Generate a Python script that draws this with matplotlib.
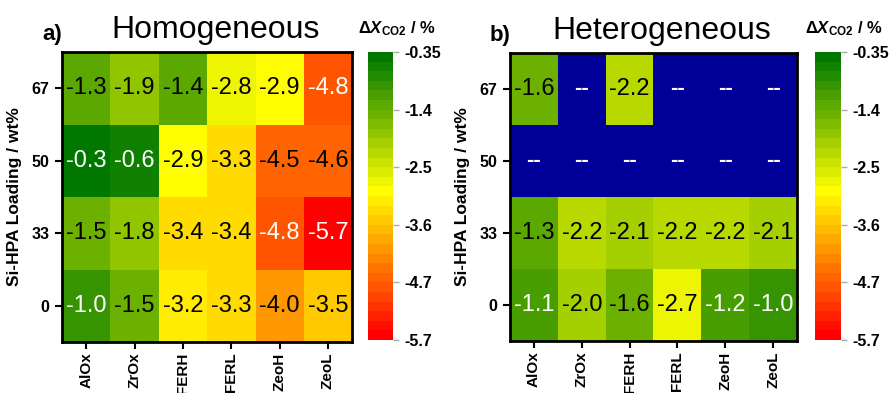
import numpy as np
import matplotlib
matplotlib.use("Agg")
import matplotlib.pyplot as plt
from matplotlib.colors import LinearSegmentedColormap, ListedColormap, Normalize

plt.rcParams['font.family'] = ['Liberation Sans', 'DejaVu Sans']
plt.rcParams['mathtext.fontset'] = 'custom'
plt.rcParams['mathtext.rm'] = 'Liberation Sans:bold'
plt.rcParams['mathtext.it'] = 'Liberation Sans:italic:bold'
plt.rcParams['mathtext.bf'] = 'Liberation Sans:bold'

# ---- data ----
supports = ["AlOx", "ZrOx", "FERH", "FERL", "ZeoH", "ZeoL"]
loadings = ["0", "33", "50", "67"]          # bottom -> top
homog_0 = [-1.0, -1.5, -3.2, -3.3, -4.0, -3.5]
homog_33 = [-1.5, -1.8, -3.4, -3.4, -4.8, -5.7]
homog_50 = [-0.3, -0.6, -2.9, -3.3, -4.5, -4.6]
homog_67 = [-1.3, -1.9, -1.4, -2.8, -2.9, -4.8]
heter_0 = [-1.1, -2.0, -1.6, -2.7, -1.2, -1.0]
heter_33 = [-1.3, -2.2, -2.1, -2.2, -2.2, -2.1]
heter_50 = [np.nan, np.nan, np.nan, np.nan, np.nan, np.nan]
heter_67 = [-1.6, np.nan, -2.2, np.nan, np.nan, np.nan]
cbar_labels = ["-5.7", "-4.7", "-3.6", "-2.5", "-1.4", "-0.35"]
vmin, vmax = -5.75, -0.35

homog = np.array([homog_0, homog_33, homog_50, homog_67])
heter = np.array([heter_0, heter_33, heter_50, heter_67])

base = LinearSegmentedColormap.from_list(
    "ryg", [(0.0, "#ff0000"), (0.52, "#ffff00"), (1.0, "#007800")])
cmap = ListedColormap(base(np.linspace(0, 1, 30)))
cmap.set_bad("#000099")
norm = Normalize(vmin=vmin, vmax=vmax)

W, H = 896, 393
fig = plt.figure(figsize=(W / 100, H / 100), dpi=100)


def px_axes(x0, y0, x1, y1):
    return fig.add_axes([x0 / W, 1 - y1 / H, (x1 - x0) / W, (y1 - y0) / H])


def draw_panel(ax, cax, data, title, letter):
    im = ax.imshow(np.ma.masked_invalid(data), cmap=cmap, norm=norm,
                   origin='lower', aspect='auto', interpolation='nearest')
    for i in range(data.shape[0]):
        for j in range(data.shape[1]):
            v = data[i, j]
            if np.isnan(v):
                ax.text(j, i, "--", ha='center', va='center', color='white',
                        fontsize=16, fontweight='bold')
            else:
                c = 'white' if (v > -1.25 or v < -4.7) else 'black'
                ax.text(j, i, f"{v:.1f}", ha='center', va='center', color=c,
                        fontsize=17)
    ax.set_xticks(range(len(supports)))
    ax.set_xticklabels(supports, rotation=90, fontsize=11, fontweight='bold')
    ax.set_yticks(range(len(loadings)))
    ax.set_yticklabels(loadings, fontsize=11.5, fontweight='bold')
    ax.set_ylabel("Si-HPA Loading / wt%", fontsize=12.5, fontweight='bold',
                  labelpad=7)
    ax.tick_params(direction='out', length=5, width=1.5, pad=4)
    ax.tick_params(axis='x', pad=2.5)
    for s in ax.spines.values():
        s.set_linewidth(2)
    ax.text(0.53, 1.048, title, transform=ax.transAxes, ha='center',
            va='baseline', fontsize=23)
    ax.text(-0.034, 1.04, letter, transform=ax.transAxes, ha='center',
            va='baseline', fontsize=16, fontweight='bold')

    cb = fig.colorbar(im, cax=cax)
    cb.outline.set_visible(False)
    cb.set_ticks(np.linspace(vmin, vmax, len(cbar_labels)))
    cb.set_ticklabels(cbar_labels)
    cax.tick_params(length=4, width=1, color='#aaaaaa', labelsize=11.5, pad=4)
    for t in cax.get_yticklabels():
        t.set_fontweight('bold')
    cax.text(-0.4, 1.05, r'Δ$\mathit{X}_{\mathrm{CO2}}$ / %', transform=cax.transAxes,
             ha='left', va='bottom', fontsize=12, fontweight='bold')
    return im


ax1 = px_axes(62, 52, 352, 342)
cax1 = px_axes(368, 52, 393, 340)
ax2 = px_axes(510, 53, 797, 341)
cax2 = px_axes(815, 52, 841, 340)

draw_panel(ax1, cax1, homog, "Homogeneous", "a)")
draw_panel(ax2, cax2, heter, "Heterogeneous", "b)")

fig.savefig("out.png", dpi=100)
